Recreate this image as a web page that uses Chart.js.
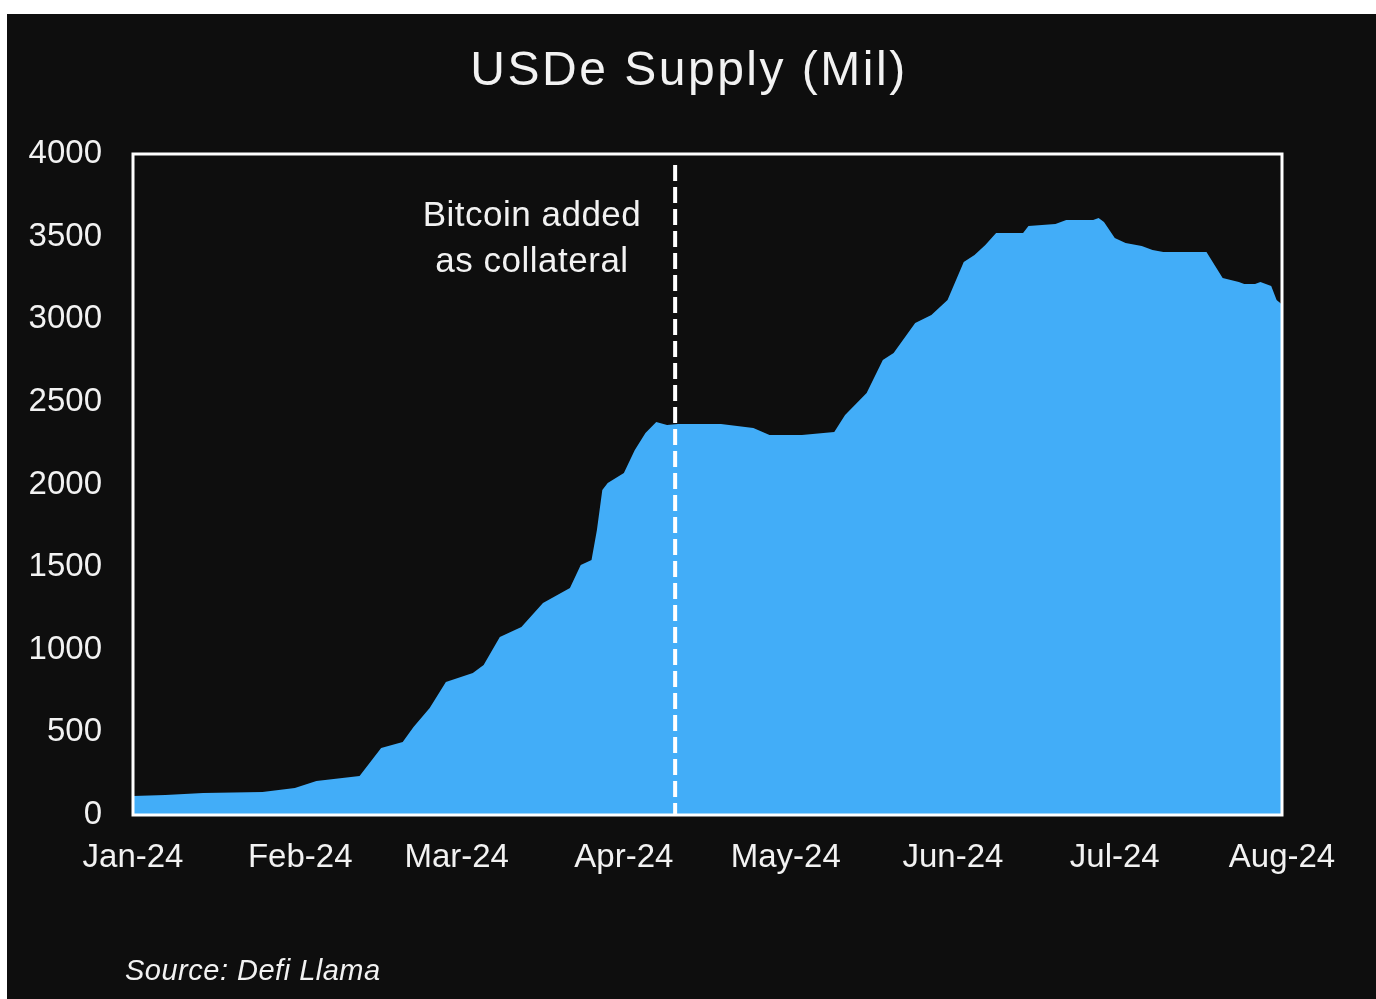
<!DOCTYPE html>
<html>
<head>
<meta charset="utf-8">
<title>USDe Supply (Mil)</title>
<script src="https://cdn.jsdelivr.net/npm/chart.js@4.4.1/dist/chart.umd.min.js"></script>
<style>
  html, body { margin: 0; padding: 0; background: #ffffff; }
  #wrap { position: absolute; left: 7px; top: 14px; width: 1369px; height: 985px; background: #0e0e0e; }
</style>
</head>
<body>
<div id="wrap"><canvas id="usde-supply" width="1369" height="985"></canvas></div>
<script>
// days since 1 Jan 2024
const dayIndex = [0, 6, 13, 24, 30, 34, 42, 44, 46, 50, 52, 55, 58, 63, 65, 68, 72, 76, 81, 83,
  85, 86, 87, 88, 91, 93, 95, 97, 99, 101, 105, 109, 115, 118, 124, 130, 132, 136, 139, 141,
  145, 148, 151, 154, 156, 158, 160, 165, 166, 171, 173, 178, 179, 180, 182, 184, 187, 189, 191, 199,
  202, 205, 206, 208, 209, 211, 212, 213];
// USDe supply, millions
const supply = [115, 121, 133, 139, 163, 206, 236, 321, 405, 442, 532, 647, 805, 859, 908, 1077, 1138, 1283, 1374, 1513,
  1543, 1725, 1966, 2009, 2069, 2208, 2311, 2378, 2360, 2366, 2366, 2366, 2342, 2299, 2299, 2317, 2420, 2553, 2753, 2796,
  2977, 3025, 3116, 3346, 3389, 3449, 3522, 3522, 3564, 3576, 3600, 3600, 3612, 3588, 3491, 3461, 3443, 3419, 3407, 3407,
  3250, 3225, 3213, 3213, 3225, 3201, 3116, 3090];

const monthStarts = [0, 31, 60, 91, 121, 152, 182, 213];
const monthLabels = ['Jan-24', 'Feb-24', 'Mar-24', 'Apr-24', 'May-24', 'Jun-24', 'Jul-24', 'Aug-24'];

const btcCollateralDay = 100.5;
const noteLines = ['Bitcoin added', 'as collateral'];

const FONT = "'Liberation Sans', Arial, sans-serif";
const TEXT = '#f2f2f2';

const extras = {
  id: 'extras',
  afterDraw(chart) {
    const {ctx, chartArea: a, scales} = chart;
    ctx.save();
    // dashed marker
    const x = scales.x.getPixelForValue(btcCollateralDay);
    ctx.strokeStyle = '#ffffff';
    ctx.lineWidth = 4;
    ctx.setLineDash([16, 6]);
    ctx.beginPath();
    ctx.moveTo(x, 151);
    ctx.lineTo(x, a.bottom);
    ctx.stroke();
    ctx.setLineDash([]);

    // frame
    ctx.lineWidth = 3;
    ctx.strokeRect(a.left, a.top, a.right - a.left, a.bottom - a.top);

    ctx.fillStyle = TEXT;
    ctx.textAlign = 'center';
    ctx.textBaseline = 'alphabetic';
    ctx.letterSpacing = '2.5px';
    ctx.font = '48px ' + FONT;
    ctx.fillText('USDe Supply (Mil)', 682, 71);

    ctx.letterSpacing = '0.5px';
    ctx.font = '35px ' + FONT;
    ctx.fillText(noteLines[0], 525, 212);
    ctx.fillText(noteLines[1], 525, 258);

    ctx.textAlign = 'left';
    ctx.letterSpacing = '0.5px';
    ctx.font = 'italic 29px ' + FONT;
    ctx.fillText('Source: Defi Llama', 118, 966);
    ctx.restore();
  }
};

new Chart(document.getElementById('usde-supply'), {
  type: 'line',
  data: {
    datasets: [{
      data: dayIndex.map((d, i) => ({x: d, y: supply[i]})),
      fill: 'origin',
      backgroundColor: '#42adf8',
      borderWidth: 0,
      pointRadius: 0,
      tension: 0
    }]
  },
  options: {
    responsive: false,
    animation: false,
    layout: {padding: {top: 140, right: 94, bottom: 0, left: 0}},
    plugins: {legend: {display: false}, tooltip: {enabled: false}, title: {display: false}},
    scales: {
      x: {
        type: 'linear',
        min: 0,
        max: 213,
        grid: {display: false, drawTicks: false},
        border: {display: false},
        afterBuildTicks: (scale) => { scale.ticks = monthStarts.map(v => ({value: v})); },
        afterFit: (scale) => { scale.height = 184; },
        ticks: {
          autoSkip: false,
          maxRotation: 0,
          padding: 23,
          color: TEXT,
          font: {family: FONT, size: 33},
          callback: (v, i) => monthLabels[i]
        }
      },
      y: {
        min: 0,
        max: 4000,
        grid: {display: false, drawTicks: false},
        border: {display: false},
        afterFit: (scale) => { scale.width = 126; },
        ticks: {
          stepSize: 500,
          padding: 31,
          color: TEXT,
          font: {family: FONT, size: 33},
          callback: (v) => String(v)
        }
      }
    }
  },
  plugins: [extras]
});
</script>
</body>
</html>
